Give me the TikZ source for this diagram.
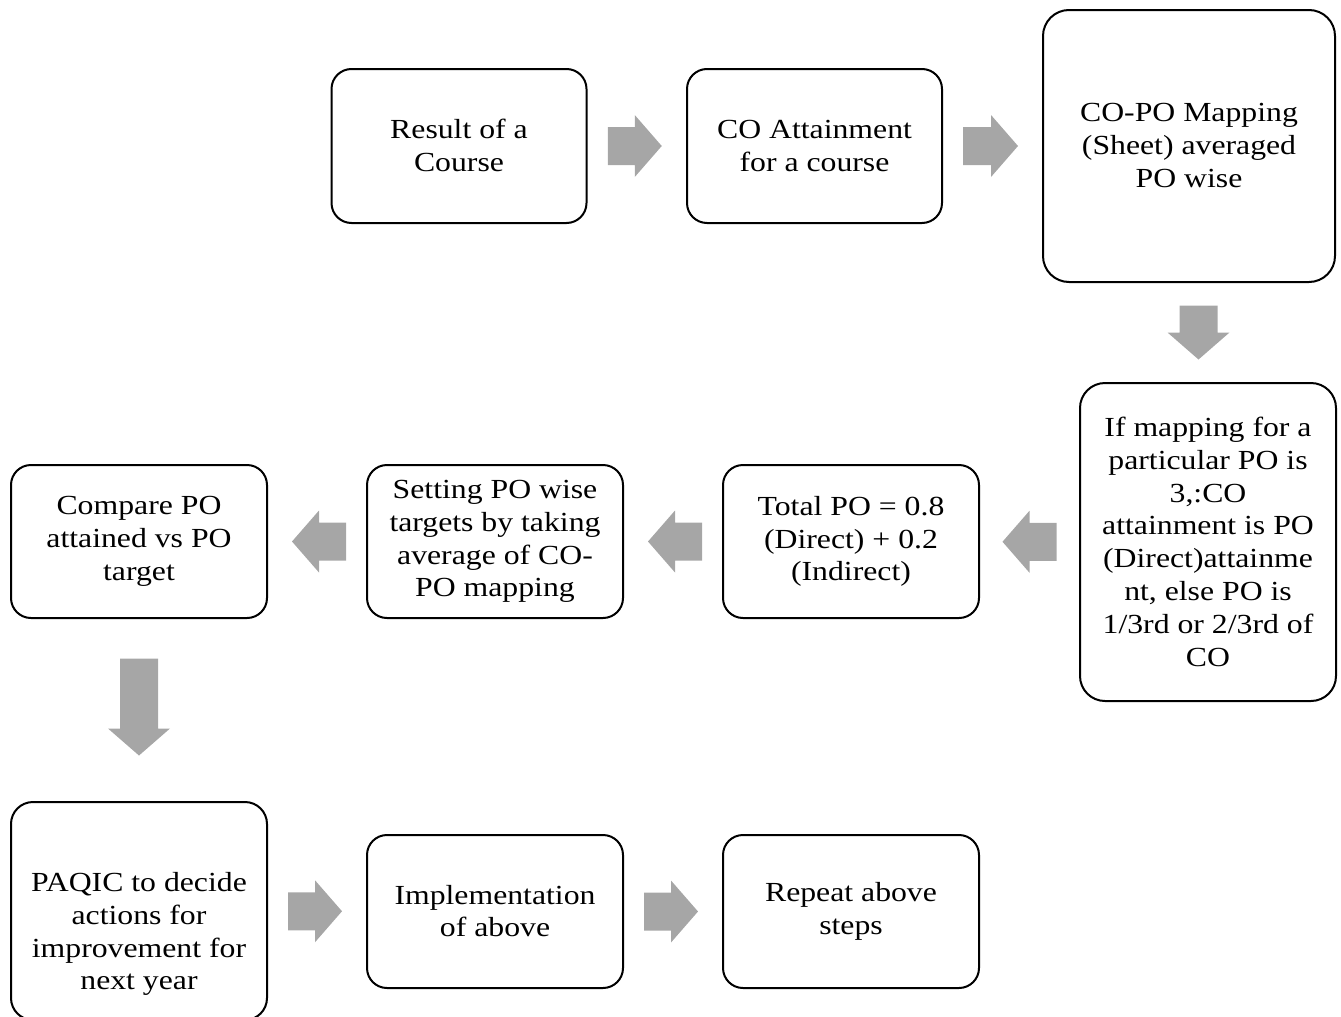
\documentclass[tikz,border=0pt]{standalone}
\usepackage{fontspec}
\setmainfont{Liberation Serif}[FakeStretch=1.15]
\usetikzlibrary{calc}
\definecolor{arrowgray}{RGB}{166,166,166}
% fixed line height/depth so every text block is centred by its line boxes
\newcommand\boxstrut{\rule[-1pt]{0pt}{33pt}}
\tikzset{
  boxtext/.style={align=center, inner sep=0pt, font=\fontsize{27.6}{32.8}\selectfont,
    execute at begin node=\boxstrut, execute at end node=\boxstrut},
  stepbox/.style={boxtext, draw=black, line width=2pt, rounded corners=20pt},
  % block arrow pointing along +x, total length #1
  pics/blockarrow/.style={code={
    \fill[arrowgray] (-#1/2,-19) -- (#1/2-27,-19) -- (#1/2-27,-31) -- (#1/2,0)
      -- (#1/2-27,31) -- (#1/2-27,19) -- (-#1/2,19) -- cycle;}}
}
\begin{document}
\begin{tikzpicture}[x=1pt,y=-1pt]
\useasboundingbox (0,0) rectangle (1341,1017);

% top row
\node[stepbox, minimum width=255pt, minimum height=154pt] (result) at (459,146) {Result of a\\Course};
\node[stepbox, minimum width=255pt, minimum height=154pt] (coatt) at (814.5,146) {CO Attainment\\for a course};
\node[stepbox, rounded corners=26pt, minimum width=292pt, minimum height=272pt] (map) at (1189,146) {CO-PO Mapping\\(Sheet) averaged\\PO wise};

% middle row
\node[stepbox, rounded corners=25pt, minimum width=256pt, minimum height=318pt] (rule) at (1208,542) {If mapping for a\\particular PO is\\3,:CO\\attainment is PO\\(Direct)attainme\\nt, else PO is\\1/3rd or 2/3rd of\\CO};
\node[stepbox, minimum width=256pt, minimum height=153pt] (total) at (851,541.5) {Total PO = 0.8\\(Direct) + 0.2\\(Indirect)};
\node[stepbox, minimum width=256pt, minimum height=153pt] (target) at (495,541.5) {Setting PO wise\\targets by taking\\average of CO-\\PO mapping};
\node[stepbox, minimum width=256pt, minimum height=153pt] (compare) at (139,541.5) {Compare PO\\attained vs PO\\target};

% bottom row
\node[stepbox, rounded corners=22pt, minimum width=256pt, minimum height=218pt] (paqic) at (139,911) {};
\node[boxtext] (paqictext) at (139,934) {PAQIC to decide\\actions for\\improvement for\\next year};
\node[stepbox, minimum width=256pt, minimum height=153pt] (impl) at (495,911.5) {Implementation\\of above};
\node[stepbox, minimum width=256pt, minimum height=153pt] (repeat) at (851,911.5) {Repeat above\\steps};

% block arrows between the steps
\pic at ($(result.east)!0.5!(coatt.west)+(-2,0)$) {blockarrow=54};
\pic at ($(coatt.east)!0.5!(map.west)+(-2,0)$) {blockarrow=55};
\pic[rotate=-90] at ($(map.south)!0.5!(rule.north)$) {blockarrow=54};
\pic[rotate=180] at ($(total.east)!0.5!(rule.west)$) {blockarrow=54};
\pic[rotate=180] at ($(target.east)!0.5!(total.west)+(2,0)$) {blockarrow=54};
\pic[rotate=180] at ($(compare.east)!0.5!(target.west)+(2,0)$) {blockarrow=54};
\pic[rotate=-90] at ($(compare.south)!0.5!(paqic.north)+(0,-3)$) {blockarrow=97};
\pic at ($(paqic.east)!0.5!(impl.west)+(-2,0)$) {blockarrow=54};
\pic at ($(impl.east)!0.5!(repeat.west)+(-2,0)$) {blockarrow=54};
\end{tikzpicture}
\end{document}
